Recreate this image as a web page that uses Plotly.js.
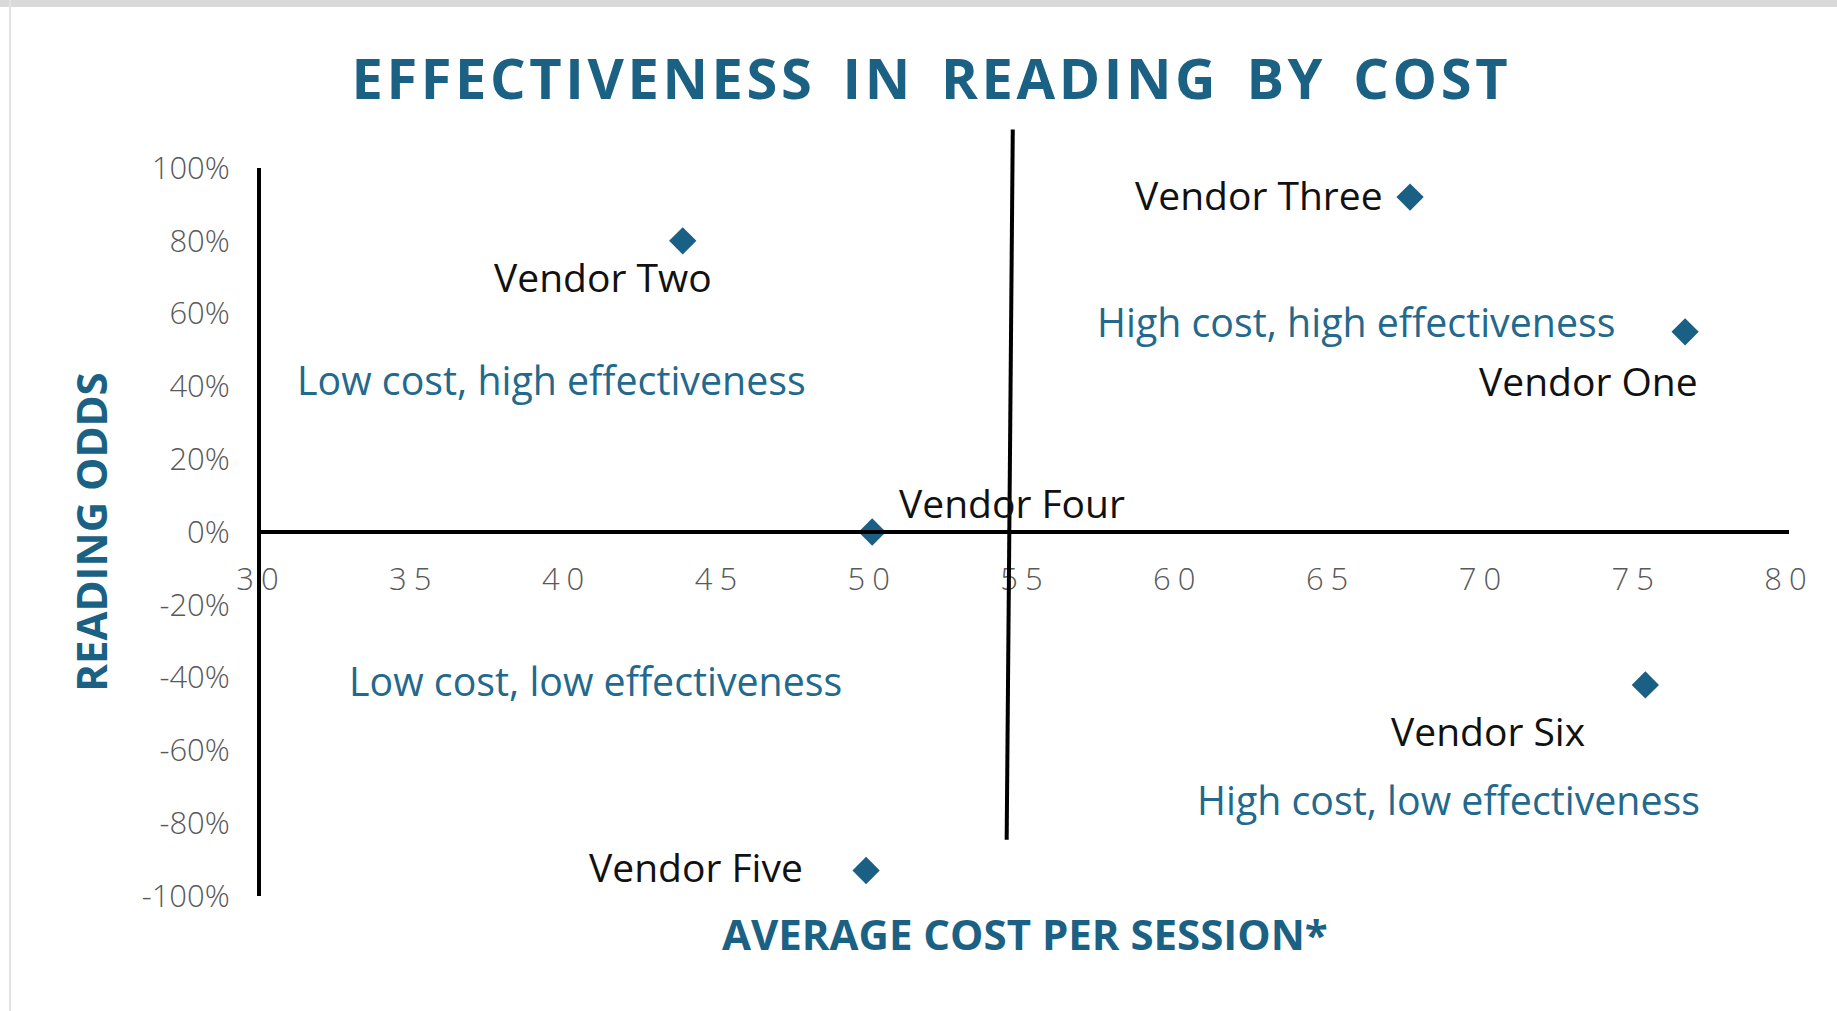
<!DOCTYPE html>
<html><head><meta charset="utf-8">
<script src="https://cdn.plot.ly/plotly-3.0.1.min.js"></script>
<style>
html,body{margin:0;padding:0;background:#fff;}
#chart{width:1837px;height:1011px;}
.gtitle{letter-spacing:3.6px;word-spacing:9px;}
.xtick text{letter-spacing:7px;}
#topband{position:absolute;left:0;top:0;width:1837px;height:7px;background:#d9d9d9;}
#leftline{position:absolute;left:9px;top:0;width:2px;height:1011px;background:#e2e2e2;}
</style></head>
<body>
<div id="chart"></div>
<div id="topband"></div><div id="leftline"></div>
<script>
// ---- data ----
const vendors = ["Vendor One", "Vendor Two", "Vendor Three", "Vendor Four", "Vendor Five", "Vendor Six"];
const costPerSession = [76.6, 43.8, 67.6, 50.0, 49.8, 75.3];
const readingOdds = [0.55, 0.80, 0.92, 0.00, -0.93, -0.42];
const xTickValues = [30, 35, 40, 45, 50, 55, 60, 65, 70, 75, 80];
const yTickValues = [-1, -0.8, -0.6, -0.4, -0.2, 0, 0.2, 0.4, 0.6, 0.8, 1];
const yTickLabels = ["-100%", "-80%", "-60%", "-40%", "-20%", "0%", "20%", "40%", "60%", "80%", "100%"];
const quadrantLabels = ["Low cost, high effectiveness", "High cost, high effectiveness", "Low cost, low effectiveness", "High cost, low effectiveness"];
const costDivider = 54.5;

// ---- styling ----
const xMin = 30, xMax = 80;
const teal = "#1b6184";
const labelTeal = "#23698d";
const markerColor = "#1a5f84";

const vendorLabelStyle = {
  "Vendor One":   {xanchor: "right",  xshift: 15,   yshift: -49},
  "Vendor Two":   {xanchor: "center", xshift: -80,  yshift: -36},
  "Vendor Three": {xanchor: "right",  xshift: -25,  yshift: 3},
  "Vendor Four":  {xanchor: "left",   xshift: 25,   yshift: 30},
  "Vendor Five":  {xanchor: "right",  xshift: -61,  yshift: 4},
  "Vendor Six":   {xanchor: "center", xshift: -157, yshift: -46}
};
const quadrantPos = [
  {x: 31.12, y: 0.418},
  {x: 57.30, y: 0.576},
  {x: 32.82, y: -0.408},
  {x: 60.56, y: -0.736}
];

const annotations = [];
vendors.forEach((v, i) => {
  const s = vendorLabelStyle[v];
  annotations.push({
    x: costPerSession[i], y: readingOdds[i], xref: "x", yref: "y",
    text: v, showarrow: false, xanchor: s.xanchor, yanchor: "middle",
    xshift: s.xshift, yshift: s.yshift,
    font: {family: "Open Sans", size: 39, color: "#111111"}
  });
});
quadrantLabels.forEach((q, i) => {
  annotations.push({
    x: quadrantPos[i].x, y: quadrantPos[i].y, xref: "x", yref: "y",
    text: q, showarrow: false, xanchor: "left", yanchor: "middle",
    font: {family: "Open Sans", size: 39.3, color: labelTeal}
  });
});
annotations.push({
  x: 0.5, y: -0.0515, xref: "paper", yref: "paper",
  text: "AVERAGE COST PER SESSION*", showarrow: false, xanchor: "center", yanchor: "middle",
  font: {family: "Open Sans", size: 42, weight: 700, color: teal}
});

const toPaperX = v => (v - xMin) / (xMax - xMin);

const trace = {
  x: costPerSession, y: readingOdds, text: vendors,
  type: "scatter", mode: "markers",
  marker: {symbol: "diamond", size: 21, color: markerColor},
  cliponaxis: false, hoverinfo: "skip"
};

const layout = {
  width: 1837, height: 1011,
  paper_bgcolor: "#ffffff", plot_bgcolor: "#ffffff",
  margin: {l: 261, r: 48, t: 168, b: 115},
  showlegend: false,
  title: {
    text: "EFFECTIVENESS IN READING BY COST",
    font: {family: "Open Sans", size: 56, weight: 700, color: teal},
    xref: "container", x: 0.507, xanchor: "center",
    yref: "container", y: 0.921, yanchor: "middle"
  },
  xaxis: {
    range: [xMin, xMax], anchor: "free", position: 0.5,
    tickvals: xTickValues, ticks: "", showgrid: false, zeroline: false,
    showline: true, linecolor: "#000000", linewidth: 4,
    ticklabelstandoff: 19, automargin: false,
    tickfont: {family: "Open Sans", size: 31, weight: 300, color: "#595959"}
  },
  yaxis: {
    range: [-1, 1], tickvals: yTickValues, ticktext: yTickLabels,
    ticks: "", showgrid: false, zeroline: false,
    showline: true, linecolor: "#000000", linewidth: 4,
    ticklabelstandoff: 21, automargin: false,
    tickfont: {family: "Open Sans", size: 31, weight: 300, color: "#595959"},
    title: {text: "READING ODDS", standoff: 22,
      font: {family: "Open Sans", size: 42, weight: 700, color: teal}}
  },
  shapes: [{
    type: "line", xref: "paper", yref: "paper",
    x0: toPaperX(costDivider - 0.1), x1: toPaperX(costDivider + 0.1),
    y0: 0.0773, y1: 1.053,
    line: {color: "#000000", width: 4}
  }],
  annotations: annotations
};

Plotly.newPlot("chart", [trace], layout, {displayModeBar: false, staticPlot: true});
</script>
</body></html>
